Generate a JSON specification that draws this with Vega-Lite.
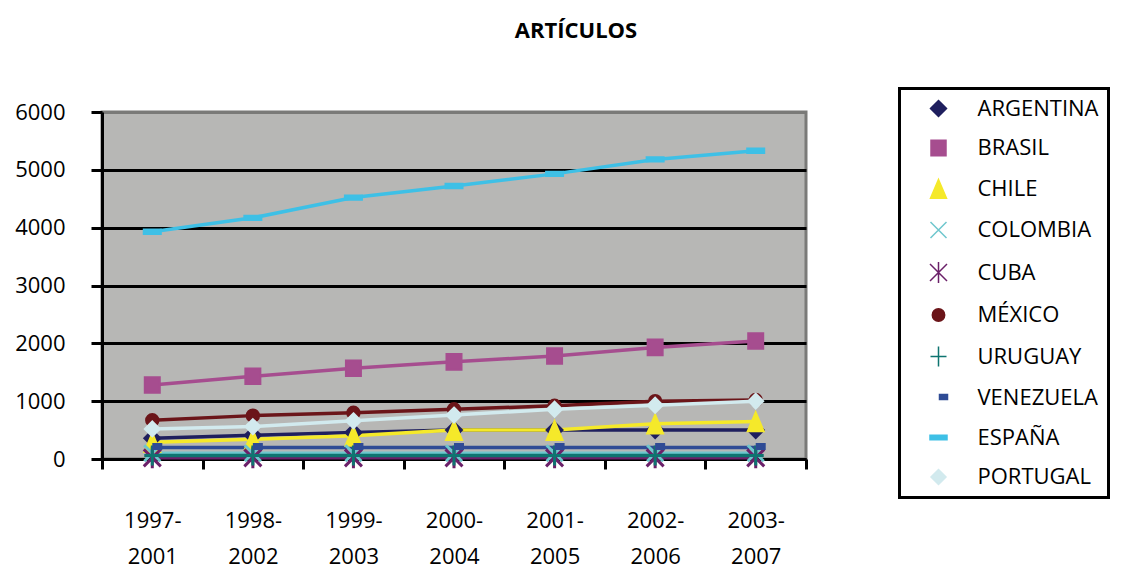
{
  "$schema": "https://vega.github.io/schema/vega-lite/v6.json",
  "width": 704,
  "height": 347,
  "autosize": {"type": "none"},
  "padding": {"left": 102, "top": 112, "right": 336, "bottom": 109},
  "background": "white",
  "title": {"text": "ARTÍCULOS", "font": "Open Sans", "fontSize": 22, "fontWeight": "bold", "color": "black", "anchor": "middle", "frame": "group", "dx": 122, "offset": 27, "baseline": "alphabetic"},
  "config": {
    "view": {"fill": "#b7b7b5", "stroke": "#7a7a78", "strokeWidth": 3},
    "font": "Open Sans",
    "legend": {"strokeWidth": 3}
  },
  "data": {"values": [
    {"country": "ARGENTINA", "period": "1997-2001", "value": 360},
    {"country": "ARGENTINA", "period": "1998-2002", "value": 410},
    {"country": "ARGENTINA", "period": "1999-2003", "value": 460},
    {"country": "ARGENTINA", "period": "2000-2004", "value": 500},
    {"country": "ARGENTINA", "period": "2001-2005", "value": 500},
    {"country": "ARGENTINA", "period": "2002-2006", "value": 500},
    {"country": "ARGENTINA", "period": "2003-2007", "value": 500},
    {"country": "BRASIL", "period": "1997-2001", "value": 1280},
    {"country": "BRASIL", "period": "1998-2002", "value": 1430},
    {"country": "BRASIL", "period": "1999-2003", "value": 1570},
    {"country": "BRASIL", "period": "2000-2004", "value": 1680},
    {"country": "BRASIL", "period": "2001-2005", "value": 1780},
    {"country": "BRASIL", "period": "2002-2006", "value": 1930},
    {"country": "BRASIL", "period": "2003-2007", "value": 2040},
    {"country": "CHILE", "period": "1997-2001", "value": 290},
    {"country": "CHILE", "period": "1998-2002", "value": 340},
    {"country": "CHILE", "period": "1999-2003", "value": 400},
    {"country": "CHILE", "period": "2000-2004", "value": 500},
    {"country": "CHILE", "period": "2001-2005", "value": 500},
    {"country": "CHILE", "period": "2002-2006", "value": 610},
    {"country": "CHILE", "period": "2003-2007", "value": 650},
    {"country": "COLOMBIA", "period": "1997-2001", "value": 100},
    {"country": "COLOMBIA", "period": "1998-2002", "value": 100},
    {"country": "COLOMBIA", "period": "1999-2003", "value": 100},
    {"country": "COLOMBIA", "period": "2000-2004", "value": 100},
    {"country": "COLOMBIA", "period": "2001-2005", "value": 100},
    {"country": "COLOMBIA", "period": "2002-2006", "value": 100},
    {"country": "COLOMBIA", "period": "2003-2007", "value": 100},
    {"country": "CUBA", "period": "1997-2001", "value": 20},
    {"country": "CUBA", "period": "1998-2002", "value": 20},
    {"country": "CUBA", "period": "1999-2003", "value": 20},
    {"country": "CUBA", "period": "2000-2004", "value": 20},
    {"country": "CUBA", "period": "2001-2005", "value": 20},
    {"country": "CUBA", "period": "2002-2006", "value": 20},
    {"country": "CUBA", "period": "2003-2007", "value": 20},
    {"country": "MÉXICO", "period": "1997-2001", "value": 670},
    {"country": "MÉXICO", "period": "1998-2002", "value": 750},
    {"country": "MÉXICO", "period": "1999-2003", "value": 800},
    {"country": "MÉXICO", "period": "2000-2004", "value": 860},
    {"country": "MÉXICO", "period": "2001-2005", "value": 920},
    {"country": "MÉXICO", "period": "2002-2006", "value": 1000},
    {"country": "MÉXICO", "period": "2003-2007", "value": 1020},
    {"country": "URUGUAY", "period": "1997-2001", "value": 60},
    {"country": "URUGUAY", "period": "1998-2002", "value": 60},
    {"country": "URUGUAY", "period": "1999-2003", "value": 60},
    {"country": "URUGUAY", "period": "2000-2004", "value": 60},
    {"country": "URUGUAY", "period": "2001-2005", "value": 60},
    {"country": "URUGUAY", "period": "2002-2006", "value": 60},
    {"country": "URUGUAY", "period": "2003-2007", "value": 60},
    {"country": "VENEZUELA", "period": "1997-2001", "value": 200},
    {"country": "VENEZUELA", "period": "1998-2002", "value": 200},
    {"country": "VENEZUELA", "period": "1999-2003", "value": 200},
    {"country": "VENEZUELA", "period": "2000-2004", "value": 200},
    {"country": "VENEZUELA", "period": "2001-2005", "value": 200},
    {"country": "VENEZUELA", "period": "2002-2006", "value": 200},
    {"country": "VENEZUELA", "period": "2003-2007", "value": 200},
    {"country": "ESPAÑA", "period": "1997-2001", "value": 3930},
    {"country": "ESPAÑA", "period": "1998-2002", "value": 4170},
    {"country": "ESPAÑA", "period": "1999-2003", "value": 4520},
    {"country": "ESPAÑA", "period": "2000-2004", "value": 4720},
    {"country": "ESPAÑA", "period": "2001-2005", "value": 4930},
    {"country": "ESPAÑA", "period": "2002-2006", "value": 5180},
    {"country": "ESPAÑA", "period": "2003-2007", "value": 5330},
    {"country": "PORTUGAL", "period": "1997-2001", "value": 520},
    {"country": "PORTUGAL", "period": "1998-2002", "value": 560},
    {"country": "PORTUGAL", "period": "1999-2003", "value": 660},
    {"country": "PORTUGAL", "period": "2000-2004", "value": 760},
    {"country": "PORTUGAL", "period": "2001-2005", "value": 860},
    {"country": "PORTUGAL", "period": "2002-2006", "value": 930},
    {"country": "PORTUGAL", "period": "2003-2007", "value": 1000}
  ]},
  "encoding": {
    "x": {
      "field": "period", "type": "nominal", "bandPosition": 0.5,
      "scale": {"type": "band", "paddingInner": 0, "paddingOuter": 0,
        "domain": ["1997-2001", "1998-2002", "1999-2003", "2000-2004", "2001-2005", "2002-2006", "2003-2007"]},
      "axis": {
        "title": null, "grid": false, "tickBand": "extent",
        "domainColor": "black", "domainWidth": 3,
        "tickColor": "black", "tickWidth": 3, "tickSize": 10,
        "labelFont": "Open Sans", "labelFontSize": 22, "labelColor": "black",
        "labelAngle": 0, "labelBaseline": "top", "labelPadding": 41, "labelLineHeight": 36,
        "labelExpr": "[slice(datum.label, 0, 5), slice(datum.label, 5)]"
      }
    },
    "y": {
      "field": "value", "type": "quantitative",
      "scale": {"domain": [0, 6000], "nice": false, "zero": true},
      "axis": {
        "title": null, "values": [0, 1000, 2000, 3000, 4000, 5000, 6000], "format": "d",
        "grid": true, "gridWidth": 3,
        "gridColor": {"condition": {"test": "datum.value === 6000", "value": "#7a7a78"}, "value": "black"},
        "domainColor": "black", "domainWidth": 3,
        "tickColor": "black", "tickWidth": 3, "tickSize": 11,
        "labelFont": "Open Sans", "labelFontSize": 22, "labelColor": "black",
        "labelPadding": 26
      }
    }
  },
  "layer": [
    {
      "mark": {"type": "line", "strokeWidth": 3.5},
      "encoding": {
        "color": {
          "field": "country", "type": "nominal",
          "scale": {
            "domain": ["ARGENTINA", "BRASIL", "CHILE", "COLOMBIA", "CUBA", "MÉXICO", "URUGUAY", "VENEZUELA", "ESPAÑA", "PORTUGAL"],
            "range": ["#1f1f5e", "#a64d8f", "#f5e92a", "#6ec6cd", "#6b2069", "#6b1519", "#0e7470", "#2f4b95", "#3ec0e6", "#d2eaee"]
          },
          "legend": {
            "orient": "none", "legendX": 797.5, "legendY": -23.5,
            "title": null, "padding": 9, "fillColor": "white", "strokeColor": "black",
            "labelFont": "Open Sans", "labelFontSize": 22, "labelColor": "black", "labelLimit": 300,
            "labelExpr": "datum.label + '\u00a0\u00a0\u00a0\u00a0\u00a0\u00a0\u00a0\u00a0\u00a0\u00a0'",
            "labelOffset": 28, "symbolOffset": 19, "symbolSize": 400, "rowPadding": 17.5
          }
        }
      }
    },
    {
      "mark": {"type": "point", "filled": true, "size": 400, "opacity": 1},
      "encoding": {
        "fill": {
          "field": "country", "type": "nominal", "legend": null,
          "scale": {
            "domain": ["ARGENTINA", "BRASIL", "CHILE", "COLOMBIA", "CUBA", "MÉXICO", "URUGUAY", "VENEZUELA", "ESPAÑA", "PORTUGAL"],
            "range": ["#1f1f5e", "#a64d8f", "#f5e92a", "#6ec6cd", "#6b2069", "#6b1519", "#0e7470", "#2f4b95", "#3ec0e6", "#d2eaee"]
          }
        },
        "stroke": {
          "field": "country", "type": "nominal", "legend": null,
          "scale": {
            "domain": ["ARGENTINA", "BRASIL", "CHILE", "COLOMBIA", "CUBA", "MÉXICO", "URUGUAY", "VENEZUELA", "ESPAÑA", "PORTUGAL"],
            "range": ["#1f1f5e", "#a64d8f", "#f5e92a", "#6ec6cd", "#6b2069", "#6b1519", "#0e7470", "#2f4b95", "#3ec0e6", "#d2eaee"]
          }
        },
        "strokeWidth": {"condition": {"test": "indexof(['COLOMBIA', 'CUBA', 'URUGUAY'], datum.country) >= 0", "value": 3}, "value": 2},
        "shape": {
          "field": "country", "type": "nominal", "legend": null,
          "scale": {
            "domain": ["ARGENTINA", "BRASIL", "CHILE", "COLOMBIA", "CUBA", "MÉXICO", "URUGUAY", "VENEZUELA", "ESPAÑA", "PORTUGAL"],
            "range": [
              "M0,-0.8L0.8,0L0,0.8L-0.8,0Z",
              "M-0.75,-0.78L0.75,-0.78L0.75,0.78L-0.75,0.78Z",
              "M0,-0.9L0.8,0.98L-0.8,0.98Z",
              "M-0.8,-0.8L0.8,0.8M-0.8,0.8L0.8,-0.8",
              "M-0.85,-0.85L0.85,0.85M-0.85,0.85L0.85,-0.85M0,-1.05L0,1.05",
              "M-0.62,0A0.62,0.62 0 1,0 0.62,0A0.62,0.62 0 1,0 -0.62,0Z",
              "M-0.8,0L0.8,0M0,-1L0,1",
              "M0.1,-0.35L0.9,-0.35L0.9,0.15L0.1,0.15Z",
              "M-0.85,-0.22L0.85,-0.22L0.85,0.22L-0.85,0.22Z",
              "M0,-0.75L0.75,0L0,0.75L-0.75,0Z"
            ]
          }
        }
      }
    }
  ]
}
